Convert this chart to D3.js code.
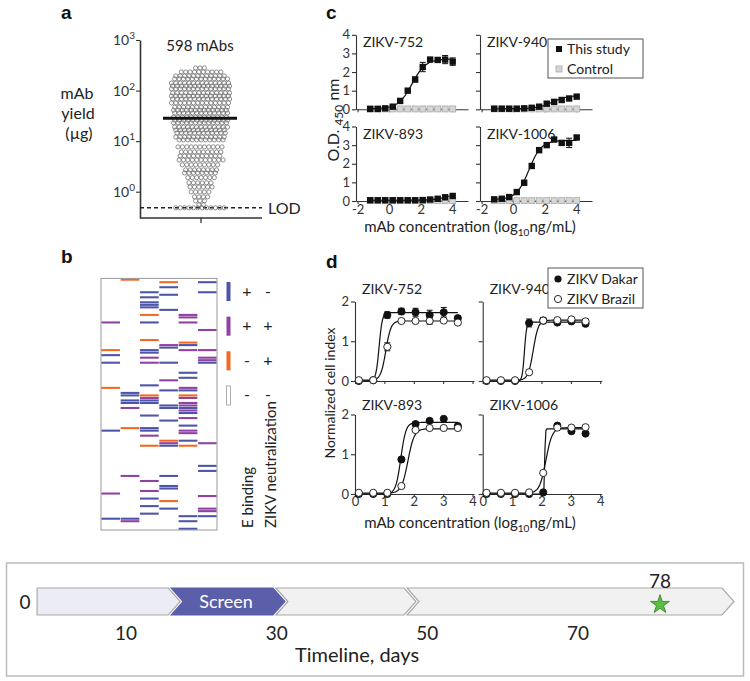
<!DOCTYPE html>
<html><head><meta charset="utf-8">
<script src="https://cdn.jsdelivr.net/npm/d3@7"></script>
<style>
body{margin:0;background:#fff}
svg{display:block;font-family:Lato,'Open Sans',sans-serif;}
</style>
</head><body>
<svg id="fig" width="750" height="681"></svg>
<script>
// ---------------- DATA ----------------
// Panel a: mAb yields (µg), grouped into swarm rows
const yieldRowValues = [280,233,195,170,141,123,108,90,78,68,57,47,41,36,30,26,23,19,16.6,14.5,12.1,10.6,7.7,6.1,5.1,4.25,3.4,2.7,2.35,1.9,1.5,1.24,0.99,0.79,0.66,0.55,0.48];
const yieldRowCounts = [3,10,12,13,14,14,14,14,14,14,14,13,13,13,13,13,13,13,12,12,12,11,11,10,10,11,9,8,8,7,6,6,5,4,3,2,12];
const yieldMedian = 28.5;
const yieldLOD = 0.48;
const yieldTicks = [1,10,100,1000];

// Panel b: heat map cells [column, row, category]
const heatCategories = ["B","P","O","N"];
const heatCatLabels = [["+","-"],["+","+"],["-","+"],["-","-"]];
const heatCells = [[1,0,"O"],[3,1,"O"],[5,1,"B"],[3,3,"B"],[2,5,"B"],[5,5,"B"],[3,6,"B"],[2,7,"B"],[2,9,"B"],[2,10,"B"],[2,11,"B"],[3,12,"B"],[2,14,"O"],[4,14,"P"],[4,15,"P"],[0,17,"P"],[2,17,"B"],[4,17,"P"],[5,20,"P"],[2,24,"O"],[4,25,"O"],[3,26,"P"],[4,26,"B"],[3,27,"B"],[0,28,"O"],[2,28,"B"],[2,29,"B"],[4,28,"P"],[5,28,"P"],[0,30,"B"],[2,31,"P"],[5,31,"P"],[5,32,"P"],[5,33,"B"],[0,33,"B"],[2,33,"P"],[3,33,"B"],[4,37,"B"],[4,39,"B"],[3,40,"P"],[2,42,"B"],[0,43,"O"],[4,43,"P"],[4,44,"B"],[3,44,"B"],[1,45,"B"],[1,46,"B"],[2,46,"O"],[2,47,"P"],[4,46,"O"],[4,47,"P"],[1,48,"B"],[1,49,"B"],[2,48,"B"],[2,49,"B"],[4,49,"P"],[1,51,"P"],[3,50,"B"],[3,51,"B"],[4,50,"P"],[4,51,"B"],[4,52,"P"],[4,53,"B"],[2,54,"B"],[4,55,"P"],[3,56,"B"],[4,58,"B"],[1,59,"O"],[2,59,"B"],[2,60,"B"],[0,60,"B"],[4,60,"P"],[4,61,"P"],[2,62,"P"],[3,64,"O"],[3,65,"P"],[3,66,"B"],[4,64,"B"],[4,66,"O"],[2,66,"O"],[5,65,"P"],[5,74,"B"],[5,76,"B"],[1,78,"P"],[3,78,"B"],[2,80,"P"],[3,82,"B"],[3,83,"B"],[2,84,"P"],[0,85,"P"],[5,86,"P"],[2,87,"B"],[3,88,"O"],[2,90,"B"],[3,91,"B"],[5,91,"P"],[5,92,"P"],[2,93,"B"],[4,94,"B"],[5,94,"B"],[0,95,"B"],[1,95,"B"],[1,96,"P"],[4,96,"B"],[4,99,"B"]];

// Panel c: ELISA binding
const cNames = ["ZIKV-752","ZIKV-940","ZIKV-893","ZIKV-1006"];
const cX = [-1.2,-0.72,-0.25,0.23,0.7,1.18,1.65,2.13,2.6,3.08,3.55,4.03];
const cStudy = [
  [0.02,0.02,0.05,0.14,0.45,1.0,1.6,2.27,2.67,2.65,2.67,2.56],
  [0.03,0.03,0.03,0.03,0.05,0.08,0.14,0.3,0.4,0.5,0.58,0.68],
  [0.04,0.04,0.04,0.04,0.04,0.04,0.04,0.05,0.08,0.12,0.2,0.27],
  [0.09,0.12,0.21,0.48,0.98,1.88,2.73,3.0,3.3,3.12,3.12,3.41]];
const cStudyErr = [
  [0,0,0,0,0,0,0.13,0.25,0.05,0.05,0.22,0.2],
  [0,0,0,0,0,0,0,0,0,0,0,0],
  [0,0,0,0,0,0,0,0,0,0,0,0],
  [0,0,0,0,0,0,0,0,0,0,0.25,0.1]];
const cControl = [
  [0.02,0.02,0.02,0.02,0.02,0.02,0.02,0.02,0.02,0.02,0.02,0.02],
  [0.02,0.02,0.02,0.02,0.02,0.02,0.02,0.02,0.02,0.02,0.02,0.02],
  [0.02,0.02,0.02,0.02,0.02,0.02,0.02,0.02,0.02,0.02,0.02,0.02],
  [0.02,0.02,0.02,0.02,0.02,0.02,0.02,0.02,0.02,0.02,0.02,0.02]];
// 4-parameter logistic fits
const cFitBottom = [0.03,0.03,0.04,0.08];
const cFitTop = [2.7,0.75,0.6,3.25];
const cFitEC50 = [1.45,2.5,4.0,1.0];
const cFitHill = [1.0,0.9,0.9,1.1];

// Panel d: RTCA neutralization
const dNames = ["ZIKV-752","ZIKV-940","ZIKV-893","ZIKV-1006"];
const dX = [0.13,0.62,1.1,1.58,2.06,2.54,3.02,3.5];
const dDakar = [
  [0.0,0.02,1.66,1.75,1.73,1.66,1.73,1.58],
  [0.0,0.0,0.0,1.46,1.52,1.47,1.5,1.44],
  [0.0,0.0,0.0,0.87,1.76,1.84,1.89,1.71],
  [0.0,0.0,0.0,0.0,0.04,1.72,1.58,1.52]];
const dDakarErr = [
  [0,0,0.08,0.08,0.1,0.12,0.12,0.06],
  [0,0,0,0.1,0.08,0,0,0.05],
  [0,0,0,0,0,0,0,0],
  [0,0,0,0,0,0,0,0]];
const dBrazil = [
  [0.02,0.02,0.86,1.51,1.51,1.51,1.52,1.47],
  [0.02,0.02,0.02,0.22,1.52,1.53,1.55,1.5],
  [0.03,0.03,0.03,0.2,1.61,1.66,1.66,1.66],
  [0.03,0.03,0.03,0.04,0.53,1.67,1.67,1.68]];
const dBrazilErr = [
  [0,0,0.1,0,0,0.08,0,0],
  [0,0,0,0,0.06,0,0.05,0.05],
  [0,0,0,0,0,0,0,0],
  [0,0,0,0,0,0,0,0]];
const dFitDakarTop = [1.72,1.48,1.8,1.64];
const dFitDakarEC50 = [0.82,1.42,1.56,2.11];
const dFitDakarHill = [8,12,5,40];
const dFitBrazilTop = [1.51,1.53,1.64,1.67];
const dFitBrazilEC50 = [1.05,1.72,1.8,2.15];
const dFitBrazilHill = [5,5,4,4];

// Timeline
const stageLabels = ["","Screen","",""];
const stageStart = [1.2,16,29.9,47.3];
const stageEnd = [17.2,31.1,48.5,88];
const dayTicks = [10,30,50,70];
const finalDay = 78;

// ---------------- DRAWING ----------------
const svg = d3.select("#fig");
const axisCol = "#333";
const font = "Lato,'Open Sans',sans-serif";

function panelLabel(t, x, y){
  svg.append("text").attr("x",x).attr("y",y).text(t)
    .attr("font-family","'Liberation Sans',Arial,sans-serif").attr("font-weight","bold").attr("font-size",19).attr("fill","#111");
}
function styleAxis(g){
  g.selectAll("path,line").attr("stroke",axisCol).attr("stroke-width",1.1);
  g.selectAll("text").attr("font-family",font).attr("font-size",13).attr("fill","#333");
}

// ===== Panel a =====
panelLabel("a",61,19);
{
  const y = d3.scaleLog().domain([0.302,1000]).range([218,40]);
  const gA = svg.append("g");
  const ax = d3.axisLeft(y).tickValues(yieldTicks).tickSize(4).tickSizeOuter(0).tickFormat("");
  const ag = gA.append("g").attr("transform","translate(140,0)").call(ax);
  styleAxis(ag); ag.select("path").attr("stroke-width",1.6);
  yieldTicks.forEach(v=>{
    const t = gA.append("text").attr("x",135).attr("y",y(v)+5).attr("text-anchor","end")
      .attr("font-family",font).attr("font-size",14).attr("fill","#333");
    t.append("tspan").text("10");
    t.append("tspan").attr("dy",-6).attr("font-size",10).text(String(Math.round(Math.log10(v))));
  });
  // x axis
  gA.append("line").attr("x1",140).attr("x2",262).attr("y1",218).attr("y2",218).attr("stroke",axisCol).attr("stroke-width",1.6);
  gA.append("line").attr("x1",201).attr("x2",201).attr("y1",218).attr("y2",223).attr("stroke",axisCol).attr("stroke-width",1.3);
  // LOD
  gA.append("line").attr("x1",140).attr("x2",262).attr("y1",y(yieldLOD)).attr("y2",y(yieldLOD))
    .attr("stroke","#222").attr("stroke-width",1.4).attr("stroke-dasharray","4,3");
  gA.append("text").attr("x",268).attr("y",y(yieldLOD)+6).text("LOD").attr("font-family",font).attr("font-size",16).attr("fill","#222");
  // swarm
  const cx = 200, maxW = 57;
  yieldRowValues.forEach((v,i)=>{
    const n = yieldRowCounts[i];
    const s = n>1 ? Math.min(4.4, maxW/(n-1)) : 0;
    const off = (i%2)*1.1;
    for(let k=0;k<n;k++){
      gA.append("circle").attr("cx",cx+off+(k-(n-1)/2)*s).attr("cy",y(v)).attr("r",2.1)
        .attr("fill","none").attr("stroke","#6a6a6a").attr("stroke-width",0.75);
    }
  });
  // median
  gA.append("line").attr("x1",163).attr("x2",237).attr("y1",y(yieldMedian)).attr("y2",y(yieldMedian)).attr("stroke","#111").attr("stroke-width",3);
  gA.append("text").attr("x",200).attr("y",51).attr("text-anchor","middle").text("598 mAbs").attr("font-family",font).attr("font-size",15).attr("fill","#222");
  const lab = gA.append("text").attr("font-family",font).attr("font-size",16).attr("fill","#222").attr("text-anchor","middle");
  lab.append("tspan").attr("x",77).attr("y",99).text("mAb");
  lab.append("tspan").attr("x",78).attr("y",119).text("yield");
  lab.append("tspan").attr("x",79).attr("y",139).text("(µg)");
}

// ===== Panel b =====
panelLabel("b",61,263);
{
  const colors = {B:"#4c55a8",P:"#8e42a2",O:"#f26a21",N:"#ffffff"};
  const xb = d3.scaleBand().domain(d3.range(6)).range([101,217]);
  const yb = d3.scaleBand().domain(d3.range(100)).range([278.4,530]);
  const gB = svg.append("g");
  gB.selectAll("rect.cell").data(heatCells).join("rect").attr("class","cell")
    .attr("x",d=>xb(d[0])+0.3).attr("width",xb.bandwidth()-0.6)
    .attr("y",d=>yb(d[1])+0.25).attr("height",yb.bandwidth()-0.45)
    .attr("fill",d=>colors[d[2]]);
  gB.append("rect").attr("x",101).attr("y",278.4).attr("width",116).attr("height",251.6)
    .attr("fill","none").attr("stroke","#999").attr("stroke-width",1);
  // legend
  const ly = d3.scaleBand().domain(heatCategories).range([282,405]).paddingInner(0.45);
  heatCategories.forEach((c,i)=>{
    gB.append("rect").attr("x",226.5).attr("y",ly(c)).attr("width",4).attr("height",ly.bandwidth())
      .attr("fill",colors[c]).attr("stroke",c==="N"?"#999":"none").attr("stroke-width",0.8);
    const cy = ly(c)+ly.bandwidth()/2+5;
    gB.append("text").attr("x",247).attr("y",cy).attr("text-anchor","middle").text(heatCatLabels[i][0])
      .attr("font-family",font).attr("font-size",16).attr("fill","#222");
    gB.append("text").attr("x",268).attr("y",cy).attr("text-anchor","middle").text(heatCatLabels[i][1])
      .attr("font-family",font).attr("font-size",16).attr("fill","#222");
  });
  gB.append("text").attr("transform","translate(253,528) rotate(-90)").text("E binding")
    .attr("font-family",font).attr("font-size",15).attr("fill","#222");
  gB.append("text").attr("transform","translate(276,528) rotate(-90)").text("ZIKV neutralization")
    .attr("font-family",font).attr("font-size",15).attr("fill","#222");
}

// ===== Panel c =====
panelLabel("c",326,19);
function fourPL(b,t,ec,h){ return x => b + (t-b)/(1+Math.pow(10,(ec-x)*h)); }
{
  const layout = [[356,109.3,true,false],[480,109.3,false,false],[356,201,true,true],[480,201,false,true]];
  layout.forEach(([x0,yB,showY,showX],i)=>{
    const g = svg.append("g");
    const x = d3.scaleLinear().domain([-2.1,5]).range([x0,x0+112]);
    const y = d3.scaleLinear().domain([0,4]).range([yB,yB-74.5]);
    const ya = g.append("g").attr("transform",`translate(${x0},0)`)
      .call(d3.axisLeft(y).tickValues([0,1,2,3,4]).tickSize(4).tickSizeOuter(0).tickPadding(2).tickFormat(showY?d3.format("d"):""));
    styleAxis(ya);
    const xa = g.append("g").attr("transform",`translate(0,${yB})`)
      .call(d3.axisBottom(x).tickValues([-2,0,2,4]).tickSize(3).tickSizeOuter(0).tickPadding(2).tickFormat(showX?d3.format("d"):""));
    styleAxis(xa); xa.selectAll("text").attr("dy","0.6em");
    xa.selectAll("text").text(d=>showX?(d<0?"-"+Math.abs(d):d):"");
    g.append("text").attr("x",x0+7).attr("y",yB-62).text(cNames[i]).attr("font-family",font).attr("font-size",14).attr("fill","#222");
    // control
    const ctrl = cX.map((v,k)=>[v,cControl[i][k]]);
    g.append("path").attr("d",d3.line().x(d=>x(d[0])).y(d=>y(d[1]))(ctrl)).attr("fill","none").attr("stroke","#999").attr("stroke-width",1);
    g.selectAll("rect.ctrl").data(ctrl).join("rect").attr("class","ctrl")
      .attr("x",d=>x(d[0])-3).attr("y",d=>y(d[1])-3).attr("width",6).attr("height",6)
      .attr("fill","#d6d6d6").attr("stroke","#aaa").attr("stroke-width",0.8);
    // fit
    const f = fourPL(cFitBottom[i],cFitTop[i],cFitEC50[i],cFitHill[i]);
    const xs = d3.range(0,101).map(k=>cX[0]+(cX[cX.length-1]-cX[0])*k/100);
    g.append("path").attr("d",d3.line().x(d=>x(d)).y(d=>y(f(d)))(xs)).attr("fill","none").attr("stroke","#111").attr("stroke-width",1.2);
    const pts = cX.map((v,k)=>[v,cStudy[i][k],cStudyErr[i][k]]);
    pts.filter(d=>d[2]>0).forEach(d=>{
      const xx=x(d[0]);
      g.append("line").attr("x1",xx).attr("x2",xx).attr("y1",y(d[1]-d[2])).attr("y2",y(d[1]+d[2])).attr("stroke","#111");
      [d[1]-d[2],d[1]+d[2]].forEach(e=>g.append("line").attr("x1",xx-3).attr("x2",xx+3).attr("y1",y(e)).attr("y2",y(e)).attr("stroke","#111"));
    });
    g.selectAll("rect.st").data(pts).join("rect").attr("class","st")
      .attr("x",d=>x(d[0])-3.2).attr("y",d=>y(d[1])-3.2).attr("width",6.4).attr("height",6.4).attr("fill","#111");
  });
  // y label
  const t = svg.append("text").attr("transform","translate(339,120) rotate(-90)").attr("text-anchor","middle")
    .attr("font-family",font).attr("font-size",16).attr("fill","#222");
  t.append("tspan").text("O.D. ");
  t.append("tspan").attr("dy",4).attr("font-size",12).text("450");
  t.append("tspan").attr("dy",-4).text(" nm");
  const xl = svg.append("text").attr("x",470).attr("y",232).attr("text-anchor","middle")
    .attr("font-family",font).attr("font-size",15).attr("fill","#222");
  xl.append("tspan").text("mAb concentration (log");
  xl.append("tspan").attr("dy",4).attr("font-size",10).text("10");
  xl.append("tspan").attr("dy",-4).text("ng/mL)");
  // legend
  const lg = svg.append("g");
  lg.append("rect").attr("x",548).attr("y",39).attr("width",95).attr("height",39).attr("fill","#fff").attr("stroke","#555").attr("stroke-width",1);
  lg.append("rect").attr("x",556).attr("y",46).attr("width",6).attr("height",6).attr("fill","#111");
  lg.append("rect").attr("x",556).attr("y",66).attr("width",6).attr("height",6).attr("fill","#d6d6d6").attr("stroke","#aaa").attr("stroke-width",0.8);
  lg.append("text").attr("x",567).attr("y",54).text("This study").attr("font-family",font).attr("font-size",14).attr("fill","#222");
  lg.append("text").attr("x",567).attr("y",74).text("Control").attr("font-family",font).attr("font-size",14).attr("fill","#222");
}

// ===== Panel d =====
panelLabel("d",326,268);
{
  const layout = [[355,381,true,false],[482.7,381,false,false],[355,494,true,true],[482.7,494,false,true]];
  layout.forEach(([x0,yB,showY,showX],i)=>{
    const g = svg.append("g");
    const x = d3.scaleLinear().domain([0,4.05]).range([x0,x0+119]);
    const y = d3.scaleLinear().domain([0,2]).range([yB,yB-79.5]);
    const ya = g.append("g").attr("transform",`translate(${x0},0)`)
      .call(d3.axisLeft(y).tickValues([0,1,2]).tickSize(4).tickSizeOuter(0).tickPadding(2).tickFormat(showY?d3.format("d"):""));
    styleAxis(ya);
    const xa = g.append("g").attr("transform",`translate(0,${yB})`)
      .call(d3.axisBottom(x).tickValues([0,1,2,3,4]).tickSize(3).tickSizeOuter(0).tickPadding(2).tickFormat(showX?d3.format("d"):""));
    styleAxis(xa); xa.selectAll("text").attr("dy","0.55em");
    g.append("text").attr("x",x0+7).attr("y",yB-(showX?84:87)).text(dNames[i]).attr("font-family",font).attr("font-size",14).attr("fill","#222");
    const xs = d3.range(0,101).map(k=>dX[0]+(dX[dX.length-1]-dX[0])*k/100);
    const fD = fourPL(0,dFitDakarTop[i],dFitDakarEC50[i],dFitDakarHill[i]);
    const fB = fourPL(0.02,dFitBrazilTop[i],dFitBrazilEC50[i],dFitBrazilHill[i]);
    [fD,fB].forEach(f=>g.append("path").attr("d",d3.line().x(d=>x(d)).y(d=>y(f(d)))(xs)).attr("fill","none").attr("stroke","#111").attr("stroke-width",1.2));
    const drawSeries=(vals,errs,fill)=>{
      const pts = dX.map((v,k)=>[v,vals[k],errs[k]]);
      pts.filter(d=>d[2]>0).forEach(d=>{
        const xx=x(d[0]);
        g.append("line").attr("x1",xx).attr("x2",xx).attr("y1",y(d[1]-d[2])).attr("y2",y(d[1]+d[2])).attr("stroke","#111");
        [d[1]-d[2],d[1]+d[2]].forEach(e=>g.append("line").attr("x1",xx-3).attr("x2",xx+3).attr("y1",y(e)).attr("y2",y(e)).attr("stroke","#111"));
      });
      g.selectAll(null).data(pts).join("circle").attr("cx",d=>x(d[0])).attr("cy",d=>y(d[1])).attr("r",3.6)
        .attr("fill",fill).attr("stroke","#111").attr("stroke-width",0.9);
    };
    drawSeries(dDakar[i],dDakarErr[i],"#111");
    drawSeries(dBrazil[i],dBrazilErr[i],"#fff");
  });
  svg.append("text").attr("transform","translate(335,393) rotate(-90)").attr("text-anchor","middle")
    .text("Normalized cell index").attr("font-family",font).attr("font-size",14).attr("fill","#222");
  const xl = svg.append("text").attr("x",470).attr("y",528).attr("text-anchor","middle")
    .attr("font-family",font).attr("font-size",15).attr("fill","#222");
  xl.append("tspan").text("mAb concentration (log");
  xl.append("tspan").attr("dy",4).attr("font-size",10).text("10");
  xl.append("tspan").attr("dy",-4).text("ng/mL)");
  const lg = svg.append("g");
  lg.append("rect").attr("x",548).attr("y",268).attr("width",95).attr("height",40).attr("fill","#fff").attr("stroke","#555").attr("stroke-width",1);
  lg.append("circle").attr("cx",558).attr("cy",279).attr("r",3.6).attr("fill","#111");
  lg.append("circle").attr("cx",558).attr("cy",299).attr("r",3.6).attr("fill","#fff").attr("stroke","#111").attr("stroke-width",0.9);
  lg.append("text").attr("x",567).attr("y",284).text("ZIKV Dakar").attr("font-family",font).attr("font-size",14).attr("fill","#222");
  lg.append("text").attr("x",567).attr("y",304).text("ZIKV Brazil").attr("font-family",font).attr("font-size",14).attr("fill","#222");
}

// ===== Timeline =====
{
  const g = svg.append("g");
  g.append("rect").attr("x",6.5).attr("y",563).attr("width",737).attr("height",113).attr("fill","#fff").attr("stroke","#bbb").attr("stroke-width",1.5);
  const day = d3.scaleLinear().domain([0,10,70,78,88]).range([25,126,578,660,734]);
  const yT=588, yB=615, yM=(yT+yB)/2, dep=12;
  const fills = ["#ececf6","#5b5ea9","#f1f1f1","#f1f1f1"];
  stageStart.forEach((s,i)=>{
    const x0=day(s), x1=day(stageEnd[i]);
    const pts = [[x0,yT],[x1-dep,yT],[x1,yM],[x1-dep,yB],[x0,yB]];
    if(i>0) pts.push([x0+dep,yM]);
    g.append("path").attr("d",d3.line()(pts)+"Z").attr("fill",fills[i]).attr("stroke",i===1?"#5b5ea9":"#aaa").attr("stroke-width",1.2);
    if(stageLabels[i]) g.append("text").attr("x",(x0+x1)/2-2).attr("y",yM+6.5).attr("text-anchor","middle")
      .text(stageLabels[i]).attr("font-family",font).attr("font-size",18).attr("fill","#fff");
  });
  g.append("text").attr("x",day(0)).attr("y",yM+7).attr("text-anchor","middle").text("0").attr("font-family",font).attr("font-size",19).attr("fill","#222");
  dayTicks.forEach(d=>g.append("text").attr("x",day(d)).attr("y",640).attr("text-anchor","middle").text(d)
    .attr("font-family",font).attr("font-size",19).attr("fill","#222"));
  g.append("text").attr("x",day(finalDay)).attr("y",588).attr("text-anchor","middle").text(finalDay)
    .attr("font-family",font).attr("font-size",19).attr("fill","#222");
  g.append("path").attr("d",d3.symbol(d3.symbolStar,110)()).attr("transform",`translate(${day(finalDay)},${yM+3})`)
    .attr("fill","#5dbf3f").attr("stroke","#2f7a2a").attr("stroke-width",0.8);
  g.append("text").attr("x",357).attr("y",662).attr("text-anchor","middle").text("Timeline, days")
    .attr("font-family",font).attr("font-size",20).attr("fill","#222");
}
</script>
</body></html>
